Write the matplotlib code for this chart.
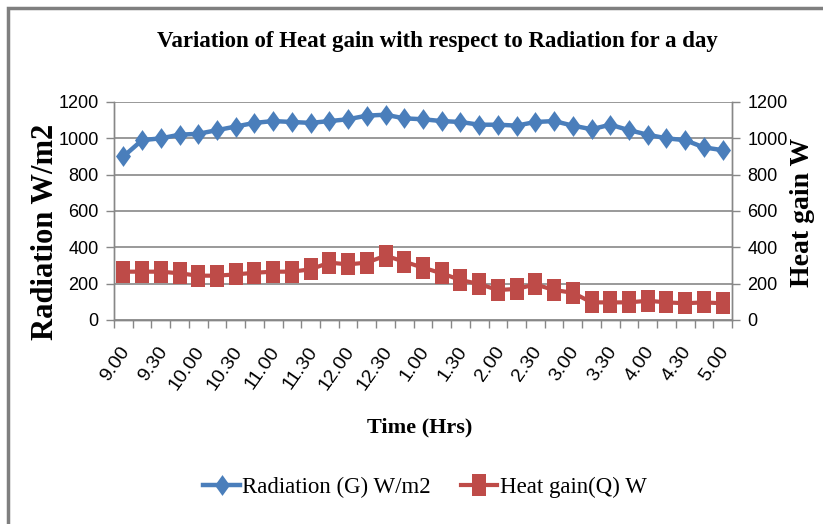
import numpy as np
import matplotlib.pyplot as plt
from matplotlib.patches import Rectangle
from matplotlib.transforms import ScaledTranslation

plt.rcParams['font.family'] = ['Liberation Serif', 'DejaVu Serif']

times = ['9.00', '9.15', '9.30', '9.45', '10.00', '10.15', '10.30', '10.45',
         '11.00', '11.15', '11.30', '11.45', '12.00', '12.15', '12.30', '12.45',
         '1.00', '1.15', '1.30', '1.45', '2.00', '2.15', '2.30', '2.45',
         '3.00', '3.15', '3.30', '3.45', '4.00', '4.15', '4.30', '4.45', '5.00']
radiation = [900, 990, 1000, 1020, 1025, 1045, 1065, 1085, 1095, 1090, 1085,
             1095, 1105, 1125, 1130, 1110, 1105, 1095, 1090, 1075, 1075, 1070,
             1090, 1095, 1070, 1050, 1075, 1045, 1020, 1000, 990, 950, 935]
heat_gain = [266, 266, 266, 257, 244, 244, 251, 260, 266, 266, 279, 316, 306,
             316, 354, 321, 288, 257, 220, 198, 165, 171, 196, 165, 150, 97,
             97, 97, 106, 97, 92, 97, 92]
y_ticks = [0, 200, 400, 600, 800, 1000, 1200]

blue = '#4A7EBB'
red = '#BE4B48'
grey = '#878787'
sans = ['Liberation Sans', 'DejaVu Sans']

# squeezed markers, like the reference
diamond = [(0, 1), (0.72, 0), (0, -1), (-0.72, 0), (0, 1)]
box = [(-0.67, -1), (0.67, -1), (0.67, 1), (-0.67, 1), (-0.67, -1)]

fig = plt.figure(figsize=(8.23, 5.24), dpi=100)
ax = fig.add_axes([114/823, 1-320/524, 618/823, 218/524])
ax2 = ax.twinx()

x = np.arange(len(times))
ax.plot(x, radiation, color=blue, lw=3.2, marker=diamond, ms=15,
        mec=blue, mew=0, label='Radiation (G) W/m2', zorder=3)
ax2.plot(x, heat_gain, color=red, lw=3.0, marker=box, ms=15.5,
         mec=red, mew=0, label='Heat gain(Q) W', zorder=3)

for a in (ax, ax2):
    a.set_xlim(-0.5, len(times) - 0.5)
    a.set_ylim(0, 1200)
    a.set_yticks(y_ticks)
    a.set_yticklabels([str(v) for v in y_ticks], family=sans, fontsize=13)
    for s in a.spines.values():
        s.set_color(grey)
        s.set_linewidth(1.0)
    a.spines['top'].set_visible(False)
    a.tick_params(axis='y', length=6, width=1.0, color=grey, pad=5)

ax.yaxis.grid(True, color=grey, lw=1.2)
ax.set_axisbelow(True)

ax.set_xticks(x[::2])
ax.set_xticklabels(times[::2], rotation=55, ha='right', va='top',
                   rotation_mode='anchor', fontsize=14, family=sans)
ax.set_xticks(np.arange(len(times) + 1) - 0.5, minor=True)
ax.tick_params(axis='x', which='major', length=0, pad=17)
ax.tick_params(axis='x', which='minor', length=6, width=1.0, color=grey)
shift = ScaledTranslation(-4/100, 0, fig.dpi_scale_trans)
for lab in ax.get_xticklabels():
    lab.set_transform(lab.get_transform() + shift)

ax.set_ylabel('Radiation W/m2', fontsize=22, fontweight='bold')
ax.yaxis.set_label_coords((60-114)/618, (320-232)/218)
ax2.set_ylabel('Heat gain W', fontsize=20, fontweight='bold')
ax2.yaxis.set_label_coords((790-114)/618, (320-212)/218)
ax.set_xlabel('Time (Hrs)', fontsize=16, fontweight='bold')
ax.xaxis.set_label_coords((420-114)/618, (320-417)/218)

fig.text(437/823, 1-41/524, 'Variation of Heat gain with respect to Radiation for a day',
         ha='center', va='center', fontsize=16.5, fontweight='bold')

h1, l1 = ax.get_legend_handles_labels()
h2, l2 = ax2.get_legend_handles_labels()
fig.legend(h1 + h2, l1 + l2, loc='center', bbox_to_anchor=(425/823, 1-487/524),
           ncol=2, frameon=False, fontsize=16.5, handlelength=1.6,
           handletextpad=0.1, columnspacing=1.3)

fig.patches.append(Rectangle((8/823, -0.1), 1.2, 1-8/524+0.1, transform=fig.transFigure,
                             fill=False, ec='#7f7f7f', lw=2.5))

fig.savefig('out.png', dpi=100)
